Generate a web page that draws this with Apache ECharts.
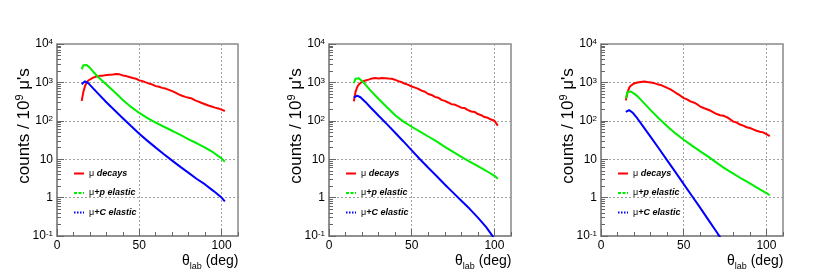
<!DOCTYPE html>
<html>
<head>
<meta charset="utf-8">
<script src="https://cdn.jsdelivr.net/npm/echarts@6/dist/echarts.min.js"></script>
<style>html,body{margin:0;padding:0;background:#fff;}#c{width:817px;height:280px;}</style>
</head>
<body>
<div id="c"></div>
<script>
// ---- data (theta_lab in deg, counts / 1e9 muons) ----
const smoothX = [15,16,17,18,19,20,22,25,30,35,40,45,50,55,60,65,70,75,80,85,90,95,100,102];
const redX = [15,16,17,18,19,20,22,24,26,28,30,32,34,36,38,40,42,44,46,48,50,52,54,56,58,60,62,64,66,68,70,72,74,76,78,80,82,84,86,88,90,92,94,96,98,100,102];

// panel 1
const red1 = [330,560,800,980,1120,1220,1330,1420,1480,1500,1560,1580,1600,1660,1620,1520,1460,1380,1300,1250,1130,1080,1000,930,880,800,770,720,690,640,590,540,490,450,420,400,380,340,315,290,270,250,235,220,210,195,180];
const green1 = [2200,2800,3000,2850,2600,2400,1900,1380,880,560,350,230,160,118,90,70,55,43,33,26,20,15,10.5,8.6];
const blue1 = [900,1000,1070,1040,960,860,700,510,305,188,117,73,46,30,20,13.5,9.2,6.3,4.4,3.05,2.2,1.5,1.0,0.8];

// panel 2
const red2 = [320,560,750,880,980,1040,1120,1180,1270,1300,1260,1300,1290,1260,1240,1160,1080,1010,920,860,780,730,680,610,570,500,470,420,400,350,330,300,270,265,240,220,215,190,175,170,150,140,125,120,108,100,75];
const green2 = [950,1250,1350,1280,1180,1080,880,620,370,225,140,95,70,52,39,29,21,15.5,11.5,8.7,6.6,5.0,3.7,3.1];
const blue2 = [400,440,450,435,410,380,310,225,135,82,49,29,17,10,6.0,3.65,2.2,1.35,0.83,0.51,0.3,0.17,0.085];

// panel 3
const red3 = [340,540,720,820,890,940,990,1030,1050,1020,1000,960,900,860,790,720,660,580,510,450,390,360,320,300,270,235,215,200,185,165,150,140,135,125,110,95,90,80,75,68,65,60,55,52,50,45,40];
const green3 = [380,560,600,580,550,510,440,320,190,115,72,47,32,22.5,16,11.5,8.0,5.7,4.2,3.1,2.35,1.75,1.3,1.15];
const blue3 = [170,185,190,180,165,150,115,76,38,19,9.3,4.6,2.25,1.1,0.54,0.26,0.125,0.06];

const seriesNames = ['μ decays', 'μ+p elastic', 'μ+C elastic'];
const yDecades = [0.1, 1, 10, 100, 1000, 10000];

const panels = [
  {red: red1, green: green1, blue: blue1, left: 57, width: 181},
  {red: red2, green: green2, blue: blue2, left: 329, width: 182},
  {red: red3, green: green3, blue: blue3, left: 601, width: 182}
];

function pairs(xs, ys) { return ys.map((v, i) => [xs[i], v]); }

const FONT = '"Liberation Sans", Arial, Helvetica, sans-serif';
const frameColor = '#8a8a8a';
const gridColor = '#a0a0a0';

const minorY = [];
for (let d = 0; d < yDecades.length - 1; d++) {
  for (let k = 2; k <= 9; k++) minorY.push(+(yDecades[d] * k).toPrecision(3));
}

function yLabel(v) {
  const e = Math.round(Math.log10(v));
  if (e === 0) return '1';
  if (e === 1) return '10';
  return '10{s|' + e + '}';
}

const hiddenSym = {color: 'rgba(0,0,0,0)', borderColor: 'rgba(0,0,0,0)', borderWidth: 0, opacity: 0};

const grids = [], xAxes = [], yAxes = [], series = [], legends = [];
panels.forEach((p, i) => {
  grids.push({left: p.left, top: 44, width: p.width, height: 192, show: true,
    borderColor: frameColor, borderWidth: 1.5, backgroundColor: 'transparent', containLabel: false});
  // main x
  xAxes.push({gridIndex: i, type: 'value', position: 'bottom', min: 0, max: 110, interval: 50,
    axisLine: {show: true, lineStyle: {color: frameColor, width: 1.5}},
    axisTick: {inside: true, length: 7, lineStyle: {color: '#666'}},
    axisLabel: {showMaxLabel: false, fontSize: 12, color: '#000', margin: 4, fontFamily: FONT},
    splitLine: {show: true, lineStyle: {color: gridColor, type: [2, 2], width: 1}},
    name: 'θ{sub|lab} (deg)', nameLocation: 'end', nameGap: -56, nameMoveOverlap: false,
    nameTextStyle: {fontSize: 14, lineHeight: 20, color: '#000', fontFamily: FONT, verticalAlign: 'top',
      padding: [15, 0, 0, 0],
      rich: {sub: {fontSize: 9, lineHeight: 9, verticalAlign: 'bottom', fontFamily: FONT, color: '#000'}}}
  });
  // minor x ticks
  xAxes.push({gridIndex: i, type: 'value', position: 'bottom', min: 0, max: 110, interval: 10,
    axisLine: {show: false}, axisLabel: {show: false}, splitLine: {show: false},
    axisTick: {inside: true, length: 4, lineStyle: {color: '#666'}}});
  // main y
  yAxes.push({gridIndex: i, type: 'log', logBase: 10, position: 'left', min: 0.1, max: 10000,
    axisLine: {show: true, lineStyle: {color: frameColor, width: 1.5}},
    axisTick: {inside: true, length: 7, lineStyle: {color: '#666'}},
    axisLabel: {fontSize: 12, color: '#000', margin: 4, fontFamily: FONT, formatter: yLabel,
      rich: {s: {fontSize: 8, lineHeight: 8, verticalAlign: 'top', fontFamily: FONT, color: '#000'}}},
    splitLine: {show: true, lineStyle: {color: gridColor, type: [2, 2], width: 1}},
    name: "counts / 10{s|9} μ's", nameLocation: 'middle', nameGap: 23, nameMoveOverlap: false,
    nameTextStyle: {fontSize: 17, lineHeight: 20, color: '#000', fontFamily: FONT, padding: [0, 0, 0, 28],
      rich: {s: {fontSize: 11, lineHeight: 10, verticalAlign: 'top', fontFamily: FONT, color: '#000'}}}
  });
  // minor y ticks
  yAxes.push({gridIndex: i, type: 'log', logBase: 10, position: 'left', min: 0.1, max: 10000,
    axisLine: {show: false}, axisLabel: {show: false}, splitLine: {show: false},
    axisTick: {inside: true, length: 4, customValues: minorY, lineStyle: {color: '#666'}}});

  const defs = [
    {name: seriesNames[0], xs: redX, ys: p.red, color: '#ff0000'},
    {name: seriesNames[1], xs: smoothX, ys: p.green, color: '#00ee00'},
    {name: seriesNames[2], xs: smoothX, ys: p.blue, color: '#0000ff'}
  ];
  defs.forEach(d => {
    series.push({type: 'line', name: d.name, xAxisIndex: 2 * i, yAxisIndex: 2 * i,
      data: pairs(d.xs, d.ys), symbol: 'none', clip: true, animation: false,
      lineStyle: {color: d.color, width: 2}, itemStyle: {color: d.color}});
  });

  legends.push({orient: 'vertical', left: p.left + 16, top: 169, padding: 0, itemWidth: 10, itemHeight: 8, itemGap: 10.5,
    selectedMode: false,
    itemStyle: hiddenSym,
    data: [
      {name: seriesNames[0], itemStyle: hiddenSym, lineStyle: {type: 'solid', width: 2}},
      {name: seriesNames[1], itemStyle: hiddenSym, lineStyle: {type: [3, 1.5], width: 2}},
      {name: seriesNames[2], itemStyle: hiddenSym, lineStyle: {type: [1.5, 1.5], width: 2}}
    ],
    formatter: n => '{m|μ}{b|' + n.slice(1) + '}',
    textStyle: {fontSize: 9, color: '#000', fontFamily: FONT,
      rich: {m: {fontSize: 9, fontFamily: FONT, color: '#000'},
             b: {fontSize: 9, fontWeight: 'bold', fontStyle: 'italic', fontFamily: FONT, color: '#000'}}}
  });
});

const chart = echarts.init(document.getElementById('c'), null, {renderer: 'canvas'});
chart.setOption({
  animation: false,
  backgroundColor: '#fff',
  grid: grids, xAxis: xAxes, yAxis: yAxes, series: series, legend: legends
});
</script>
</body>
</html>
